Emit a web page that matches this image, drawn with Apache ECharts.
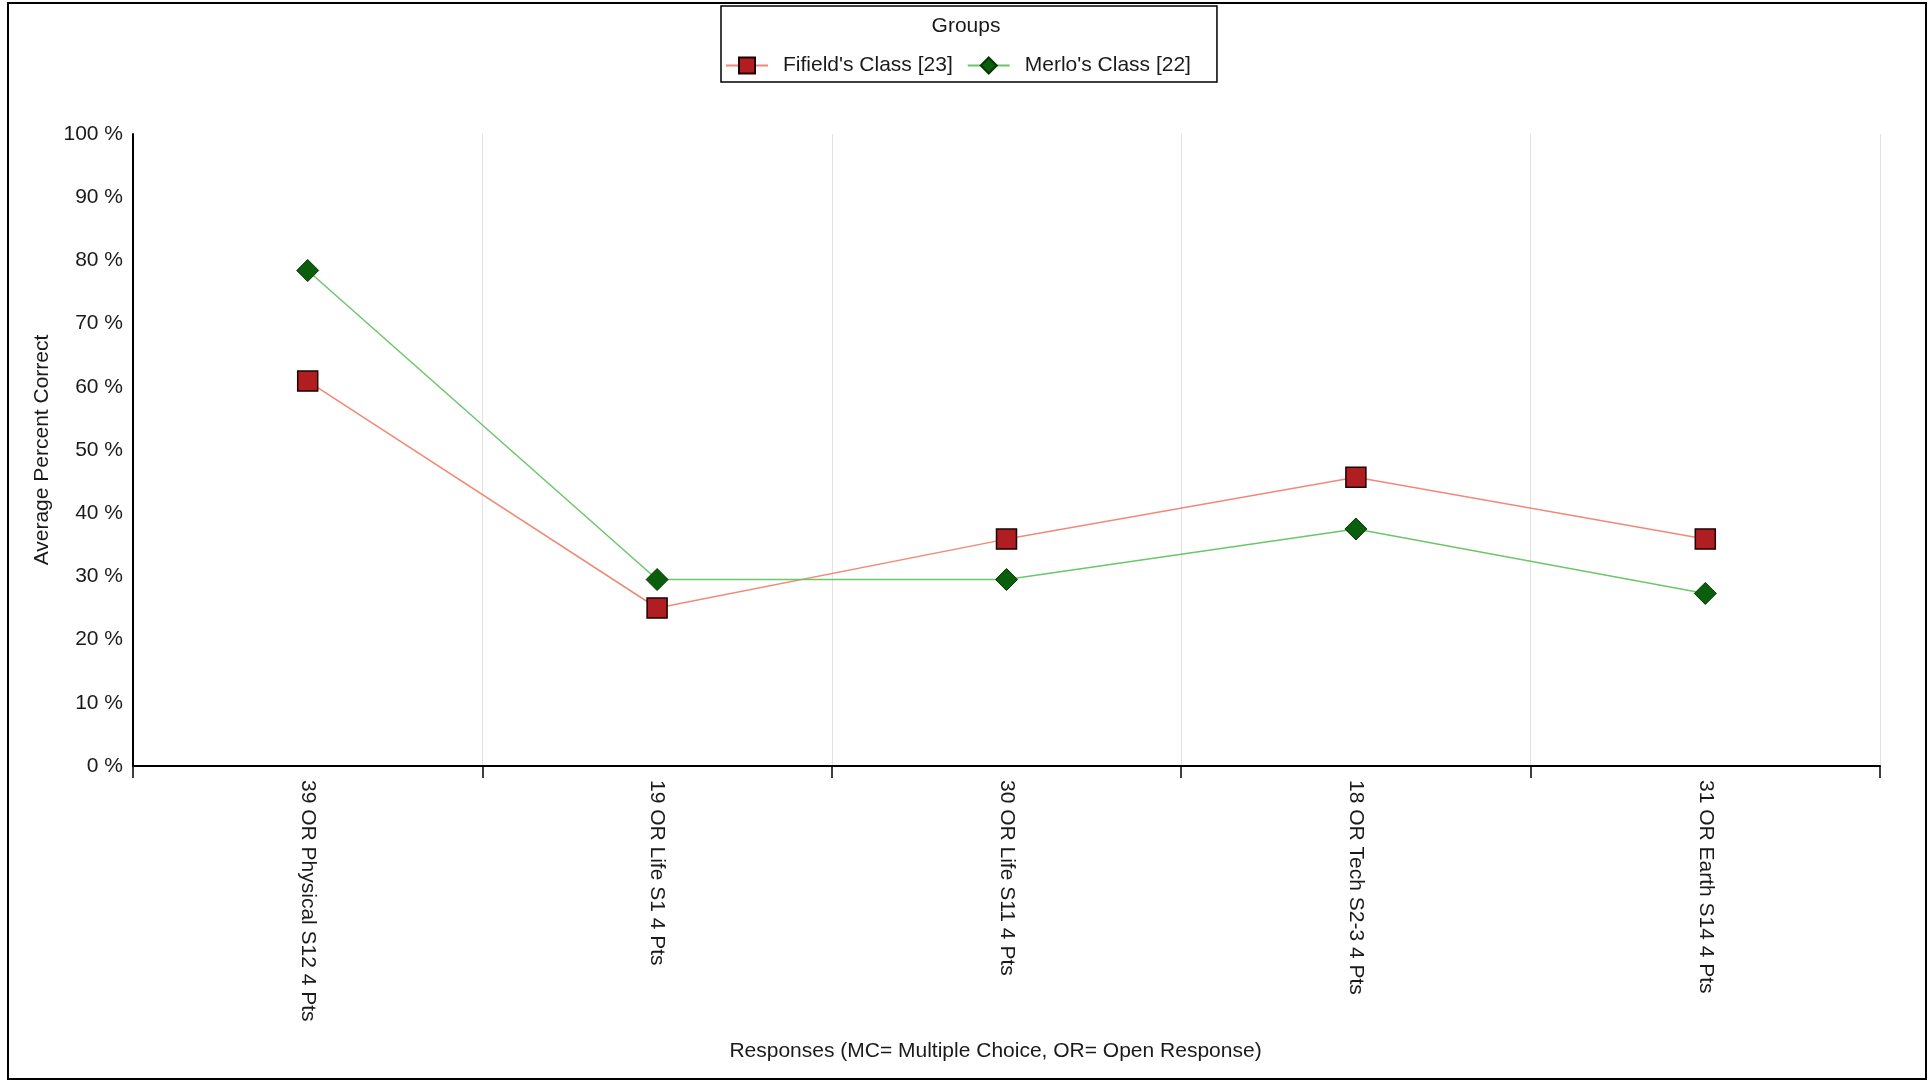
<!DOCTYPE html>
<html>
<head>
<meta charset="utf-8">
<script src="https://cdn.jsdelivr.net/npm/echarts@6/dist/echarts.min.js"></script>
<style>
html,body{margin:0;padding:0;background:#fff;}
#chart{width:1932px;height:1082px;}
</style>
</head>
<body>
<div id="chart"></div>
<script>
const categories = ["39 OR Physical S12 4 Pts", "19 OR Life S1 4 Pts", "30 OR Life S11 4 Pts", "18 OR Tech S2-3 4 Pts", "31 OR Earth S14 4 Pts"];
const fifieldValues = [60.9, 25.0, 35.9, 45.7, 35.9];
const merloValues = [78.4, 29.5, 29.5, 37.5, 27.3];
const seriesNames = ["Fifield's Class [23]", "Merlo's Class [22]"];
const yTicks = [0, 10, 20, 30, 40, 50, 60, 70, 80, 90, 100];

const FONT = "Liberation Sans, Arial, sans-serif";
const FS = 21;
const TXT = '#1a1a1a';
const chart = echarts.init(document.getElementById('chart'));
chart.setOption({
  animation: false,
  backgroundColor: '#fff',
  textStyle: { fontFamily: FONT, color: TXT },
  title: {
    text: 'Groups', left: 'center', top: 11,
    textStyle: { fontFamily: FONT, fontSize: FS, fontWeight: 'normal', color: TXT }
  },
  legend: {
    left: 721, top: 6,
    padding: [49, 26, 6, 4],
    borderColor: '#000', borderWidth: 1.5,
    itemWidth: 42, itemHeight: 20, itemGap: 14,
    textStyle: { fontFamily: FONT, fontSize: FS, color: TXT, padding: [0, 0, 0, 10] },
    data: seriesNames
  },
  graphic: [{
    type: 'rect', silent: true, z: -1,
    shape: { x: 8, y: 3, width: 1918, height: 1076 },
    style: { fill: 'none', stroke: '#000', lineWidth: 2 }
  }],
  grid: { left: 133, right: 52, top: 134, bottom: 316 },
  xAxis: {
    type: 'category', data: categories, boundaryGap: true,
    name: 'Responses (MC= Multiple Choice, OR= Open Response)',
    nameLocation: 'middle', nameGap: 275,
    nameTextStyle: { fontFamily: FONT, fontSize: FS, color: TXT, padding: [0, 22, 0, 0] },
    axisLine: { lineStyle: { color: '#000', width: 2 } },
    axisTick: { show: true, length: 12, lineStyle: { color: '#000', width: 1.5 } },
    axisLabel: { rotate: -90, fontSize: FS, fontFamily: FONT, color: TXT, margin: 14 },
    splitLine: { show: true, lineStyle: { color: '#e2e2e2', width: 1 } }
  },
  yAxis: {
    type: 'value', min: yTicks[0], max: yTicks[yTicks.length - 1], interval: 10,
    name: 'Average Percent Correct', nameLocation: 'middle', nameGap: 71,
    nameTextStyle: { fontFamily: FONT, fontSize: FS, color: TXT },
    axisLine: { show: true, lineStyle: { color: '#000', width: 2 } },
    axisTick: { show: false },
    axisLabel: { formatter: '{value} %', fontSize: FS, fontFamily: FONT, color: TXT, margin: 10 },
    splitLine: { show: false }
  },
  series: [{
    name: seriesNames[0], type: 'line', data: fifieldValues,
    symbol: 'rect', symbolSize: 20,
    lineStyle: { color: '#f08a78', width: 1.5 },
    itemStyle: { color: '#b01e22', borderColor: '#1a0000', borderWidth: 1.5 }
  }, {
    name: seriesNames[1], type: 'line', data: merloValues,
    symbol: 'diamond', symbolSize: [22, 22],
    lineStyle: { color: '#6cc66c', width: 1.5 },
    itemStyle: { color: '#0b5e0b', borderColor: '#063806', borderWidth: 1 }
  }]
});
</script>
</body>
</html>
